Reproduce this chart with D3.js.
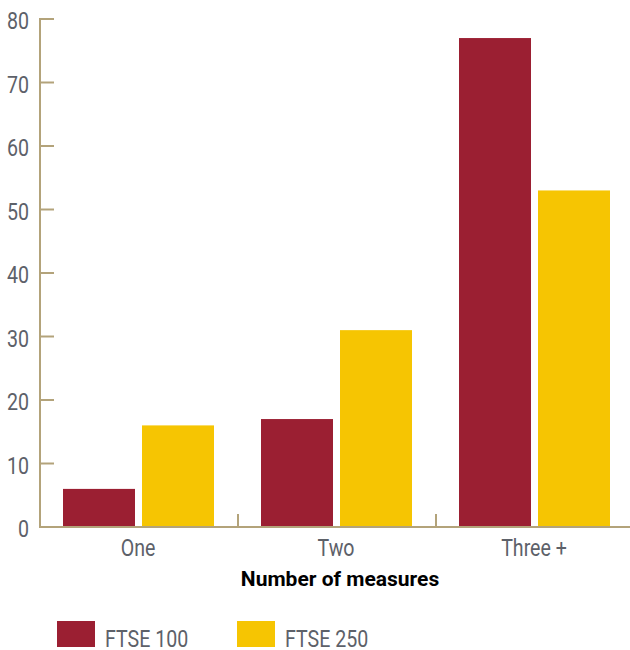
<!DOCTYPE html>
<html>
<head>
<meta charset="utf-8">
<script src="https://cdn.jsdelivr.net/npm/d3@7"></script>
<style>
  html, body { margin: 0; padding: 0; background: #fff; }
  svg { display: block; }
  text { font-family: "Roboto", "Liberation Sans", sans-serif; }
</style>
</head>
<body>
<svg id="chart" width="630" height="650"></svg>
<script>
// Share of companies by number of measures
const categories = ["One", "Two", "Three +"];
const seriesNames = ["FTSE 100", "FTSE 250"];
const ftse100 = [6, 17, 77];
const ftse250 = [16, 31, 53];
const yTicks = [0, 10, 20, 30, 40, 50, 60, 70, 80];
const colors = ["#9b1f32", "#f6c502"];
const axisColor = "#b3a37a";
const labelColor = "#5d6169";

const svg = d3.select("#chart");
const x0 = 40, xEnd = 634, yTop = 19, yBottom = 527;

const x = d3.scaleBand().domain(categories).range([x0, xEnd]);
const xSub = d3.scaleBand().domain(seriesNames)
  .range([23, 174]).paddingInner(7 / 79).paddingOuter(0);
const y = d3.scaleLinear().domain([0, 80]).range([yBottom, yTop]);

const values = [ftse100, ftse250];

// Narrow label text: horizontally condensed Roboto
function narrowText(g, px, py, str, anchor, size) {
  return g.append("text")
    .attr("transform", `translate(${px},${py}) scale(0.8,1)`)
    .attr("text-anchor", anchor)
    .attr("font-size", size)
    .attr("fill", labelColor)
    .text(str);
}

// Bars
categories.forEach((cat, i) => {
  seriesNames.forEach((s, j) => {
    svg.append("rect")
      .attr("x", x(cat) + xSub(s))
      .attr("y", y(values[j][i]))
      .attr("width", xSub.bandwidth())
      .attr("height", y(0) - y(values[j][i]))
      .attr("fill", colors[j]);
  });
});

// Y axis: vertical line with ticks pointing into the plot
const yAxis = svg.append("g");
yAxis.append("line")
  .attr("x1", x0).attr("x2", x0)
  .attr("y1", y(80) - 1).attr("y2", yBottom + 1)
  .attr("stroke", axisColor).attr("stroke-width", 2);
yTicks.forEach(t => {
  if (t > 0) {
    yAxis.append("line")
      .attr("x1", x0).attr("x2", x0 + 14)
      .attr("y1", y(t)).attr("y2", y(t))
      .attr("stroke", axisColor).attr("stroke-width", 2);
  }
  narrowText(yAxis, 29, y(t) + 10, t, "end", 24.5);
});

// X axis baseline and category separators
const xAxis = svg.append("g");
xAxis.append("line")
  .attr("x1", x0 - 1).attr("x2", 630)
  .attr("y1", yBottom).attr("y2", yBottom)
  .attr("stroke", axisColor).attr("stroke-width", 2);
categories.forEach(cat => {
  xAxis.append("line")
    .attr("x1", x(cat)).attr("x2", x(cat))
    .attr("y1", yBottom).attr("y2", yBottom - 13)
    .attr("stroke", axisColor).attr("stroke-width", 2);
  narrowText(xAxis, x(cat) + x.bandwidth() / 2 - 1, 556, cat, "middle", 24.5);
});

// Axis title
svg.append("text")
  .attr("x", 340).attr("y", 586)
  .attr("text-anchor", "middle")
  .attr("font-size", 21)
  .attr("font-weight", "bold")
  .attr("fill", "#000")
  .text("Number of measures");

// Legend
const legendX = [57, 237];
const legend = svg.append("g");
seriesNames.forEach((s, j) => {
  legend.append("rect")
    .attr("x", legendX[j]).attr("y", 621)
    .attr("width", 38).attr("height", 26)
    .attr("fill", colors[j]);
  narrowText(legend, legendX[j] + 48, 647, s, "start", 24.5);
});
</script>
</body>
</html>
